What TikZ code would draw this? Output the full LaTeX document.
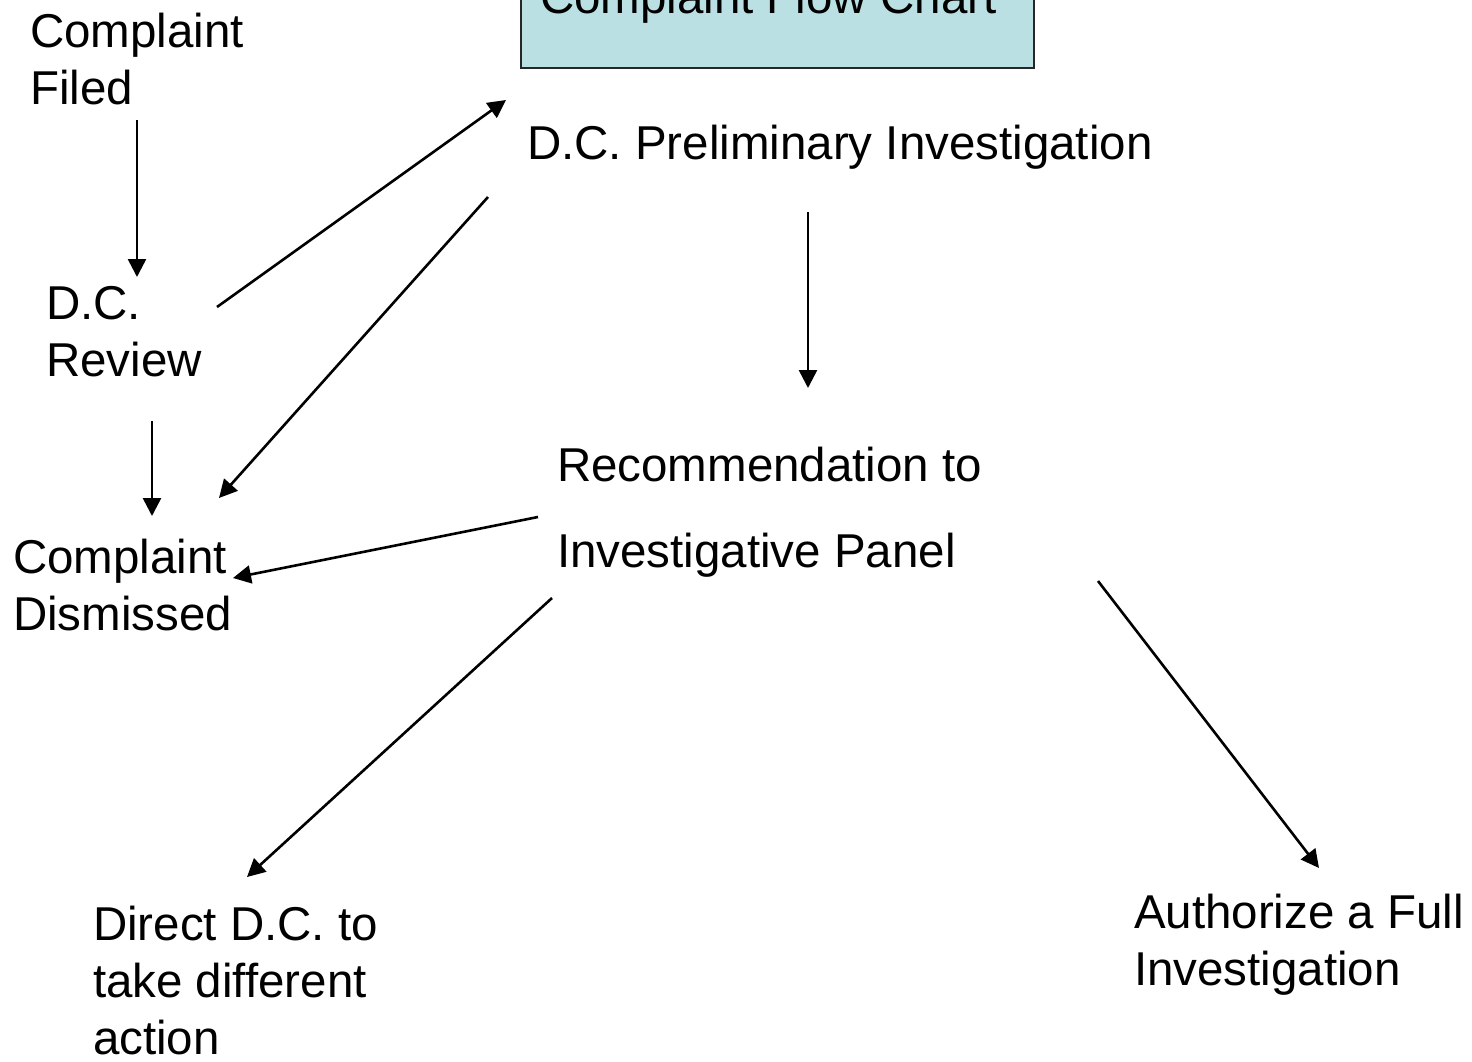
\documentclass[tikz,border=0pt]{standalone}
\usepackage{fontspec}
\setmainfont{Liberation Sans}
\usetikzlibrary{arrows.meta}
\definecolor{boxfill}{RGB}{187,224,227}
\begin{document}
\begin{tikzpicture}[x=1pt,y=-1pt,
  lbl/.style={anchor=base west,inner sep=0pt,outer sep=0pt,align=left,
    font=\fontsize{47.5}{57}\selectfont},
  conn/.style={line width=2.6pt,-{Triangle[length=18pt,width=18pt]}}]
\useasboundingbox[fill=white] (0,0) rectangle (1472,1061);
% title box
\node[draw=black!85,line width=2.2pt,fill=boxfill,minimum width=513pt,minimum height=110pt,
  anchor=south west,inner sep=0pt] (titlebox) at (520,69) {};
\node[lbl] (title) at (540,13) {Complaint Flow Chart};
% texts (anchor = baseline of last line)
\node[lbl] (filed) at (30,104) {Complaint\\Filed};
\node[lbl] (review) at (46,376) {D.C.\\Review};
\node[lbl] (dismissed) at (13,630) {Complaint\\Dismissed};
\node[lbl] (prelim) at (527,159) {D.C. Preliminary Investigation};
\node[lbl] (recom) at (557,481) {Recommendation to};
\node[lbl] (panel) at (557,567) {Investigative Panel};
\node[lbl] (direct) at (93,1054) {Direct D.C. to\\take different\\action};
\node[lbl] (full) at (1134,985) {Authorize a Full\\Investigation};
% connector end points
\coordinate (a1s) at (137,120);  \coordinate (a1e) at (137,277);
\coordinate (a2s) at (217,307);  \coordinate (a2e) at (506,100);
\coordinate (a3s) at (488,197);  \coordinate (a3e) at (219,498);
\coordinate (a4s) at (152,421);  \coordinate (a4e) at (152,516);
\coordinate (a5s) at (538,517);  \coordinate (a5e) at (233,578);
\coordinate (a6s) at (808,212);  \coordinate (a6e) at (808,388);
\coordinate (a7s) at (552,598);  \coordinate (a7e) at (247,877);
\coordinate (a8s) at (1098,581); \coordinate (a8e) at (1319,868);
\draw[conn] (a1s) -- (a1e);
\draw[conn] (a2s) -- (a2e);
\draw[conn] (a3s) -- (a3e);
\draw[conn] (a4s) -- (a4e);
\draw[conn] (a5s) -- (a5e);
\draw[conn] (a6s) -- (a6e);
\draw[conn] (a7s) -- (a7e);
\draw[conn] (a8s) -- (a8e);
\end{tikzpicture}
\end{document}
